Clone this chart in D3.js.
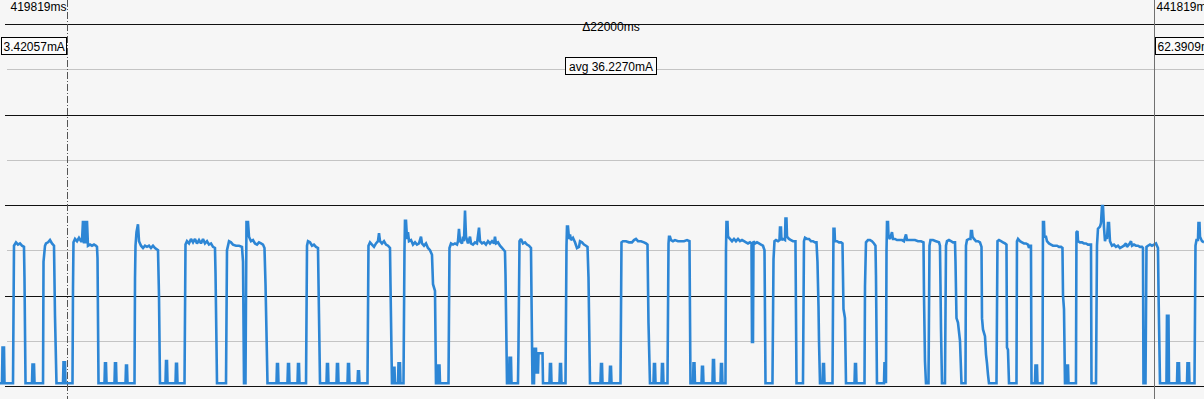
<!DOCTYPE html>
<html>
<head>
<meta charset="utf-8">
<script src="https://cdn.jsdelivr.net/npm/d3@7"></script>
<style>
  html, body { margin: 0; padding: 0; background: #f6f6f6; overflow: hidden; }
  svg { display: block; }
  text { font-family: "Liberation Sans", Arial, sans-serif; font-size: 12px; fill: #000; }
</style>
</head>
<body>
<svg id="chart" width="1204" height="399"></svg>
<script>
// ---- data ----
const viewStartMs = 418464;          // time at left edge of view
const viewSpanMs = 24346;            // visible time span
const cursorTimesMs = [419819, 441819];
const cursorValuesMa = ["3.42057mA", "62.3909mA"];
const deltaLabel = "\u039422000ms";
const avgLabel = "avg 36.2270mA";
const majorTicksMa = [0, 40, 80, 120, 160];
const minorTicksMa = [20, 60, 100, 140];

// current samples: [ms since view start, mA]
const currentSamples = [
[0,1.2],[40,1.2],[51,17],[81,17],[91,1.2],[263,1.2],
[283,62],[324,63.5],[364,62.5],[404,63],[445,62],[485,61.5],[495,48],[516,1.2],
[647,1.2],[657,9.5],[688,9.5],[698,1.2],[870,1.2],
[880,55],[910,62],[930,63],[971,63.5],[1011,64.5],[1051,63],[1092,62],[1112,31],[1142,1.2],
[1274,1.2],[1284,10.5],[1314,10.5],[1324,1.2],[1466,1.2],
[1476,43],[1486,63.5],[1517,65],[1557,64],[1597,65.5],[1638,64],[1658,64],[1678,73],[1699,63],[1719,73],[1739,63],[1759,73],[1779,62],[1820,62.5],[1860,62],[1901,62.5],[1941,62],[1961,61.5],[1972,56.5],[1992,1.2],
[2113,1.2],[2123,10],[2143,10],[2154,1.2],[2315,1.2],[2325,10],[2346,10],[2356,1.2],[2538,1.2],[2548,9],[2568,9],[2578,1.2],[2720,1.2],
[2730,47.5],[2740,62],[2760,68],[2790,71.5],[2811,64],[2851,62],[2892,61],[2932,62],[2972,61.5],[3013,62],[3053,61],[3094,62],[3134,61],[3195,60],[3215,40],[3235,1.2],
[3346,1.2],[3357,11],[3377,11],[3387,1.2],[3549,1.2],[3559,9.8],[3579,9.8],[3589,1.2],[3731,1.2],
[3751,62.5],[3781,64],[3822,63],[3862,65],[3903,63.5],[3943,65],[3983,63],[4024,64.5],[4064,63],[4105,65],[4145,63],[4186,64],[4226,62.5],[4267,63],[4307,61.5],[4347,61],[4358,50],[4388,1.2],[4570,1.2],
[4590,60],[4631,64],[4671,63.5],[4711,62.5],[4772,62],[4833,62],[4893,61.5],[4914,55],[4934,1.2],[4964,1.2],[4984,72.5],[5015,72.5],[5035,66],[5075,64],[5116,64.5],[5156,63],[5197,62.5],[5237,63.5],[5278,63],[5318,62.5],[5348,61],[5369,45],[5409,1.2],
[5591,1.2],[5601,9.7],[5621,9.7],[5631,1.2],[5813,1.2],[5824,9.7],[5844,9.7],[5854,1.2],[6016,1.2],[6026,9.7],[6046,9.7],[6056,1.2],[6188,1.2],
[6208,62],[6228,64],[6268,63.5],[6309,62],[6349,62.5],[6390,61.5],[6430,61],[6450,32],[6471,1.2],
[6602,1.2],[6612,9.7],[6632,9.7],[6642,1.2],[6804,1.2],[6814,9.7],[6835,9.7],[6845,1.2],[7027,1.2],[7037,9.7],[7057,9.7],[7067,1.2],[7229,1.2],[7239,6.5],[7259,6.5],[7269,1.2],[7431,1.2],
[7451,62],[7482,63.5],[7522,62.5],[7563,61.5],[7603,63],[7643,64],[7664,67.5],[7684,64],[7724,63],[7765,64],[7805,62.5],[7846,62],[7886,61],[7896,45],[7926,1.2],
[7947,1.2],[7957,8],[7977,8],[7987,1.2],[8048,1.2],[8058,10],[8088,10],[8098,1.2],[8159,1.2],
[8179,60],[8189,73],[8210,73],[8230,65],[8250,68],[8270,64],[8311,64.5],[8351,62.5],[8392,63.5],[8432,62.5],[8472,63],[8513,66],[8533,63],[8574,62],[8614,63],[8654,61],[8695,60],[8735,58],[8756,45],[8796,42],[8816,1.2],
[8847,1.2],[8857,9],[8887,9],[8897,1.2],[9069,1.2],
[9089,61],[9120,63],[9160,62.5],[9200,63],[9241,62.5],[9261,64],[9281,69.5],[9302,64],[9342,63],[9362,66],[9382,64],[9403,77.5],[9423,66],[9463,63],[9504,66],[9524,63],[9564,62.5],[9605,63.5],[9645,63],[9686,70],[9706,64],[9746,63],[9787,63.5],[9827,62.5],[9868,64],[9908,63],[9949,64],[9989,63],[10009,66],[10029,63],[10070,63.5],[10110,62],[10151,61],[10191,60],[10211,59.5],[10222,49],[10252,1.2],
[10292,1.2],[10302,12.5],[10333,12.5],[10343,1.2],[10474,1.2],
[10484,17],[10505,64],[10535,65],[10575,63],[10616,63.5],[10656,62.5],[10697,62],[10737,61],[10747,40],[10767,1.2],[10798,1.2],[10808,16.4],[10838,16.4],[10848,6],[10879,6],[10889,14.5],[10970,14.5],[10980,1.2],
[11111,1.2],[11121,9.7],[11142,9.7],[11152,1.2],[11313,1.2],[11324,9.7],[11344,9.7],[11354,1.2],[11435,1.2],
[11455,62],[11465,70.5],[11485,70.5],[11506,65],[11526,67],[11546,64.5],[11586,65.5],[11627,63.5],[11667,61],[11708,61.5],[11728,64],[11768,63.5],[11809,62.5],[11849,62],[11880,61.5],[11900,48],[11930,1.2],
[12142,1.2],[12153,9.7],[12173,9.7],[12183,1.2],[12324,1.2],[12335,8.5],[12355,8.5],[12365,1.2],[12547,1.2],
[12567,63.5],[12597,64],[12658,64],[12719,63.5],[12779,63.5],[12820,64.5],[12860,65],[12901,64],[12961,64],[13022,63.5],[13063,63],[13093,62.5],[13113,28],[13143,1.2],
[13214,1.2],[13224,9.7],[13245,9.7],[13255,1.2],[13376,1.2],[13386,9.7],[13406,9.7],[13416,1.2],[13497,1.2],
[13518,63],[13528,66],[13548,66],[13568,64.5],[13608,64],[13649,64.5],[13710,64],[13770,64],[13831,64],[13892,64.5],[13942,64],[13962,1.2],
[14013,1.2],[14023,10],[14043,10],[14053,1.2],[14185,1.2],[14195,8.5],[14215,8.5],[14225,1.2],[14407,1.2],[14417,11.5],[14438,11.5],[14448,1.2],[14569,1.2],[14579,9.7],[14599,9.7],[14609,1.2],[14670,1.2],
[14680,60],[14690,72.5],[14711,72.5],[14721,66],[14761,65],[14802,64],[14842,65],[14882,64],[14923,65],[14963,64],[15004,64.5],[15044,64],[15085,63.5],[15125,63],[15165,63.5],[15196,63],[15206,19.5],[15226,19.5],[15236,64],[15267,63],[15307,63.5],[15347,63],[15388,62.5],[15428,62],[15459,60],[15479,1.2],[15620,1.2],
[15641,56],[15661,64],[15691,64.5],[15732,64],[15762,64.5],[15772,70],[15792,70],[15802,64.5],[15833,65],[15873,64.5],[15883,74],[15903,74],[15914,66],[15954,65],[15994,64.5],[16035,64],[16085,64],[16106,1.2],[16237,1.2],
[16257,64],[16278,65.5],[16318,65],[16358,65],[16399,64],[16439,64],[16480,63.5],[16510,63.5],[16530,55],[16551,35],[16561,20],[16581,1.2],
[16631,1.2],[16642,9.7],[16662,9.7],[16672,1.2],[16834,1.2],
[16854,69.5],[16874,69.5],[16884,64],[16925,64],[16965,63.5],[17006,63.5],[17036,63],[17056,34],[17086,30],[17107,1.2],
[17279,1.2],[17289,9.7],[17309,9.7],[17319,1.2],[17481,1.2],
[17491,44],[17511,63.5],[17551,64.5],[17592,64.5],[17632,64],[17673,63],[17703,62],[17713,49],[17733,1.2],
[17875,1.2],[17885,10],[17905,10],[17915,1.2],
[17926,60],[17936,72.5],[17956,72.5],[17966,66],[17996,65],[18037,68],[18057,65],[18097,65],[18138,64.5],[18199,64.5],[18239,64.5],[18279,64],[18320,67],[18340,64.5],[18381,64.5],[18441,64.5],[18502,64.5],[18563,64],[18623,64],[18674,63.5],[18684,40],[18704,11],[18724,1.2],[18775,1.2],
[18795,62],[18815,64.5],[18866,64.5],[18926,64],[18987,63.5],[19007,62],[19017,45],[19028,25],[19048,1.2],[19108,1.2],
[19129,62],[19149,64],[19189,64.5],[19230,64],[19270,63.5],[19311,63.5],[19321,55],[19341,30],[19371,28],[19412,20],[19442,1.2],[19523,1.2],
[19533,62],[19553,64.5],[19594,65],[19624,65],[19634,68.5],[19654,68.5],[19665,66],[19695,65],[19735,64],[19776,64],[19816,63.5],[19847,61.5],[19857,30],[19877,25],[19917,22],[19938,14],[19958,10],[19978,5],[19998,1.2],[20150,1.2],
[20170,64],[20200,64.5],[20241,64],[20281,63.5],[20322,63],[20352,62.5],[20362,17],[20382,16],[20403,1.2],[20554,1.2],
[20564,64],[20585,65],[20625,64],[20665,63.5],[20706,63],[20746,63],[20787,62.5],[20807,61],[20827,62],[20847,62],[20858,1.2],
[20928,1.2],[20938,9],[20969,9],[20979,1.2],[21080,1.2],
[21090,72.5],[21110,72.5],[21120,66],[21151,66],[21171,64],[21211,63],[21252,62.5],[21292,62],[21333,62],[21373,62],[21414,61.5],[21454,61.5],[21484,61],[21495,40],[21515,34],[21535,1.2],
[21565,1.2],[21575,9],[21596,9],[21606,1.2],[21757,1.2],
[21767,68],[21788,68.5],[21798,64],[21838,63.5],[21879,63.5],[21919,63],[21960,63],[22000,62.5],[22040,62.5],[22061,62.5],[22071,1.2],[22162,1.2],
[22182,62],[22202,69.5],[22243,70.5],[22263,72],[22283,79.5],[22303,79.5],[22324,70],[22344,64],[22364,66],[22384,65],[22404,72],[22425,72],[22445,64],[22485,62],[22526,62.5],[22566,61.5],[22607,62],[22647,61],[22688,61.5],[22728,62],[22768,63],[22789,61.5],[22829,62.5],[22870,64],[22890,62],[22930,62.5],[22971,62],[23011,62],[23051,61.5],[23092,61.5],[23112,61],[23122,1.2],[23163,1.2],[23183,61.5],[23213,62],[23254,62.5],[23294,62],[23335,62.5],[23375,63],[23395,62],[23415,61],[23426,42],[23456,1.2],
[23587,1.2],[23597,31],[23628,31],[23638,1.2],[23800,1.2],[23810,10],[23840,10],[23850,1.2],[24002,1.2],[24012,10],[24042,10],[24052,1.2],[24154,1.2],
[24174,62],[24194,64.5],[24224,64.5],[24234,72],[24255,72],[24265,66],[24305,64],[24346,63.5]
];

// ---- drawing ----
const W = 1204, H = 399;
const svg = d3.select("#chart");
svg.append("rect").attr("width", W).attr("height", H).attr("fill", "#f6f6f6");

const x = d3.scaleLinear().domain([viewStartMs, viewStartMs + viewSpanMs]).range([0, W]);
const y = d3.scaleLinear().domain([0, 160]).range([386, 24]);
const crisp = v => Math.round(v) + 0.5;

// grid lines
svg.append("g").selectAll("line").data(minorTicksMa).join("line")
  .attr("x1", 7).attr("x2", W)
  .attr("y1", d => crisp(y(d))).attr("y2", d => crisp(y(d)))
  .attr("stroke", "#c4c4c4").attr("stroke-width", 1);
svg.append("g").selectAll("line").data(majorTicksMa).join("line")
  .attr("x1", 5).attr("x2", W)
  .attr("y1", d => crisp(y(d))).attr("y2", d => crisp(y(d)))
  .attr("stroke", "#111").attr("stroke-width", 1);

// current trace
const line = d3.line()
  .x(d => x(viewStartMs + d[0]))
  .y(d => y(d[1]));
svg.append("path").datum(currentSamples)
  .attr("d", line)
  .attr("fill", "none")
  .attr("stroke", "#2d86d5")
  .attr("stroke-width", 2.6)
  .attr("stroke-linejoin", "miter")
  .attr("stroke-miterlimit", 2);

// cursors
const cx0 = crisp(x(cursorTimesMs[0]) - 0.5);
const cx1 = crisp(x(cursorTimesMs[1]) - 0.5);
svg.append("line").attr("x1", cx0).attr("x2", cx0).attr("y1", 0).attr("y2", H)
  .attr("stroke", "#555").attr("stroke-width", 1).attr("stroke-dasharray", "7,2,1,2");
svg.append("line").attr("x1", cx1).attr("x2", cx1).attr("y1", 0).attr("y2", H)
  .attr("stroke", "#707070").attr("stroke-width", 1);

// time labels
svg.append("text").attr("x", cx0 - 1).attr("y", 11).attr("text-anchor", "end")
  .text(cursorTimesMs[0] + "ms");
svg.append("text").attr("x", cx1 + 2).attr("y", 11).attr("text-anchor", "start")
  .text(cursorTimesMs[1] + "ms");

// delta label
const midX = (x(cursorTimesMs[0]) + x(cursorTimesMs[1])) / 2;
svg.append("text").attr("x", midX).attr("y", 31).attr("text-anchor", "middle").text(deltaLabel);

// value boxes
function box(xLeft, yTop, w, h, label, anchor) {
  svg.append("rect").attr("x", xLeft).attr("y", yTop).attr("width", w).attr("height", h)
    .attr("fill", "#fbfbfb").attr("stroke", "#000").attr("stroke-width", 1);
  const t = svg.append("text").attr("y", yTop + 13.5).text(label);
  if (anchor === "middle") t.attr("x", xLeft + w / 2).attr("text-anchor", "middle");
  else t.attr("x", xLeft + 2);
}
box(cx0 - 66, 37.5, 65, 17, cursorValuesMa[0]);
box(cx1 + 1, 37.5, 65, 17, cursorValuesMa[1]);
box(Math.round(midX) - 45.5, 57.5, 91, 17, avgLabel, "middle");
</script>
</body>
</html>
